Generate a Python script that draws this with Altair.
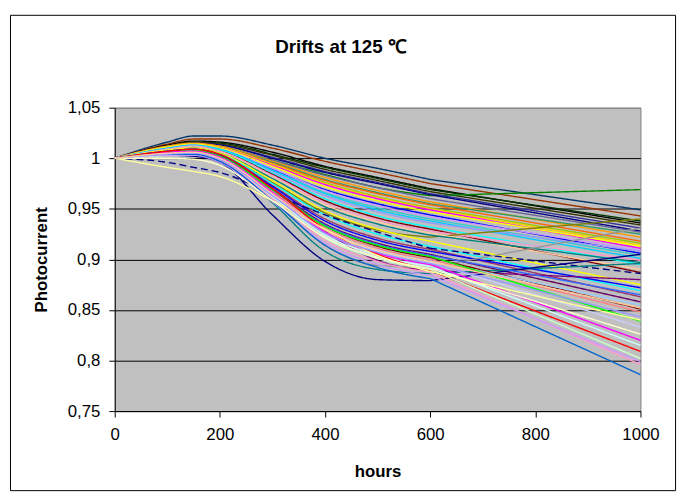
import altair as alt
import pandas as pd

TITLE = "Drifts at 125 ℃"
X_TITLE = "hours"
Y_TITLE = "Photocurrent"

HOURS = [0, 100, 150, 200, 300, 400, 500, 600, 1000]
X_TICKS = [0, 200, 400, 600, 800, 1000]
Y_TICKS = [0.75, 0.8, 0.85, 0.9, 0.95, 1.0, 1.05]

# upper bundle (ends 0.89 - 0.97)
UPPER = [
    [1, 1.016, 1.022, 1.022, 1.013, 1.000, 0.990, 0.979, 0.949],
    [1, 1.014, 1.019, 1.019, 1.010, 0.997, 0.986, 0.975, 0.943],
    [1, 1.013, 1.017, 1.016, 1.006, 0.992, 0.981, 0.970, 0.936],
    [1, 1.012, 1.016, 1.015, 1.004, 0.991, 0.980, 0.969, 0.938],
    [1, 1.012, 1.016, 1.014, 1.003, 0.989, 0.978, 0.967, 0.934],
    [1, 1.009, 1.013, 1.011, 0.998, 0.984, 0.971, 0.963, 0.969],
    [1, 1.012, 1.015, 1.013, 1.001, 0.987, 0.976, 0.965, 0.931],
    [1, 1.011, 1.015, 1.013, 1.000, 0.986, 0.975, 0.964, 0.928],
    [1, 1.011, 1.014, 1.012, 0.998, 0.983, 0.971, 0.960, 0.927],
    [1, 1.012, 1.015, 1.012, 0.997, 0.981, 0.968, 0.957, 0.922],
    [1, 1.010, 1.013, 1.011, 0.996, 0.979, 0.966, 0.955, 0.925],
    [1, 1.011, 1.014, 1.011, 0.995, 0.978, 0.965, 0.954, 0.918],
    [1, 1.010, 1.013, 1.010, 0.994, 0.976, 0.962, 0.951, 0.916],
    [1, 1.011, 1.014, 1.011, 0.994, 0.975, 0.961, 0.950, 0.914],
    [1, 1.010, 1.013, 1.010, 0.993, 0.974, 0.960, 0.949, 0.911],
    [1, 1.011, 1.014, 1.010, 0.992, 0.972, 0.958, 0.947, 0.913],
    [1, 1.009, 1.012, 1.008, 0.989, 0.969, 0.955, 0.944, 0.906],
    [1, 1.010, 1.013, 1.009, 0.990, 0.968, 0.953, 0.942, 0.909],
    [1, 1.009, 1.012, 1.008, 0.988, 0.966, 0.951, 0.940, 0.904],
    [1, 1.010, 1.013, 1.009, 0.988, 0.965, 0.949, 0.938, 0.901],
    [1, 1.008, 1.011, 1.007, 0.986, 0.963, 0.947, 0.936, 0.908],
    [1, 1.009, 1.012, 1.008, 0.985, 0.960, 0.943, 0.932, 0.895],
    [1, 1.008, 1.011, 1.007, 0.984, 0.958, 0.941, 0.930, 0.887],
    [1, 1.009, 1.012, 1.007, 0.983, 0.956, 0.939, 0.928, 0.899],
    [1, 1.006, 1.007, 1.003, 0.976, 0.946, 0.929, 0.922, 0.940],
    [1, 1.008, 1.011, 1.006, 0.981, 0.954, 0.937, 0.926, 0.890],
]
UPPER_COLORS = [
    "#003366", "#993300", "#000000", "#003300", "#333300", "#008000",
    "#333399", "#000080", "#666699", "#FF9900", "#339966", "#FF6600",
    "#99CC00", "#FFCC00", "#FF00FF", "#FFFF00", "#0000FF", "#CC99FF",
    "#33CCCC", "#00CCFF", "#9999FF", "#00FFFF", "#800000", "#FF99CC",
    "#808000", "#FFCC99",
]

# middle bundle (ends 0.85 - 0.93)
MIDDLE = [
    [1, 1.007, 1.010, 1.005, 0.980, 0.952, 0.935, 0.924, 0.897],
    [1, 1.008, 1.010, 1.005, 0.978, 0.948, 0.930, 0.918, 0.875],
    [1, 1.007, 1.009, 1.004, 0.975, 0.944, 0.925, 0.913, 0.869],
    [1, 1.006, 1.008, 1.003, 0.973, 0.940, 0.921, 0.910, 0.863],
    [1, 1.007, 1.009, 1.003, 0.972, 0.938, 0.919, 0.908, 0.872],
    [1, 1.006, 1.008, 1.002, 0.970, 0.935, 0.916, 0.905, 0.858],
    [1, 0.996, 0.991, 0.986, 0.965, 0.944, 0.927, 0.911, 0.886],
    [1, 1.005, 1.006, 1.001, 0.970, 0.928, 0.899, 0.889, 0.880],
    [1, 1.004, 1.004, 0.999, 0.956, 0.908, 0.890, 0.886, 0.896],
    [1, 1.004, 1.005, 1.000, 0.960, 0.914, 0.894, 0.892, 0.931],
    [1, 1.003, 1.002, 0.996, 0.944, 0.898, 0.880, 0.879, 0.905],
    [1, 1.006, 1.008, 1.002, 0.969, 0.933, 0.913, 0.902, 0.851],
    [1, 1.005, 1.007, 1.001, 0.968, 0.934, 0.915, 0.904, 0.865],
    [1, 1.005, 1.006, 1.000, 0.966, 0.930, 0.910, 0.899, 0.855],
    [1, 1.006, 1.007, 1.001, 0.967, 0.931, 0.911, 0.900, 0.848],
]
MIDDLE_COLORS = [
    "#008080", "#FFFF00", "#00FFFF", "#993366", "#0000FF", "#660066",
    "#000080", "#800080", "#008080", "#969696", "#000080", "#800000",
    "#3366FF", "#99CCFF", "#FF8080",
]
MIDDLE_DASHED = [False, False, False, False, False, False, True, False,
                 False, False, False, False, False, False, False]

# lower bundle (ends 0.78 - 0.85)
LOWER = [
    [1, 1.006, 1.008, 1.002, 0.969, 0.933, 0.914, 0.903, 0.839],
    [1, 1.004, 1.005, 0.999, 0.964, 0.927, 0.908, 0.897, 0.833],
    [1, 1.006, 1.007, 1.001, 0.966, 0.927, 0.906, 0.895, 0.820],
    [1, 1.003, 1.004, 0.998, 0.962, 0.924, 0.904, 0.893, 0.815],
    [1, 1.007, 1.009, 1.004, 0.970, 0.930, 0.905, 0.889, 0.809],
    [1, 1.003, 1.004, 0.997, 0.960, 0.921, 0.901, 0.890, 0.802],
    [1, 1.004, 1.005, 0.998, 0.960, 0.919, 0.898, 0.887, 0.796],
    [1, 1.003, 1.003, 0.996, 0.957, 0.916, 0.895, 0.884, 0.799],
    [1, 1.004, 1.004, 0.997, 0.958, 0.914, 0.892, 0.881, 0.786],
    [1, 0.991, 0.987, 0.982, 0.958, 0.930, 0.904, 0.888, 0.840],
    [1, 1.000, 0.999, 0.993, 0.958, 0.922, 0.902, 0.891, 0.826],
    [1, 1.004, 1.005, 0.999, 0.963, 0.926, 0.907, 0.896, 0.843],
    [1, 1.005, 1.006, 1.000, 0.965, 0.929, 0.909, 0.898, 0.852],
]
LOWER_COLORS = [
    "#00FF00", "#CCCCFF", "#FF00FF", "#CCFFFF", "#FF0000", "#CCFFCC",
    "#FF99CC", "#CC99FF", "#0066CC", "#FFFF99", "#FFFFCC", "#9999FF",
    "#FFCC99",
]

rows = []
names = []
colors = []
groups = [
    ("U", UPPER, UPPER_COLORS, [False] * len(UPPER)),
    ("M", MIDDLE, MIDDLE_COLORS, MIDDLE_DASHED),
    ("L", LOWER, LOWER_COLORS, [False] * len(LOWER)),
]
for prefix, series_list, cols, dashes in groups:
    for i, (vals, col, dsh) in enumerate(zip(series_list, cols, dashes)):
        name = f"{prefix}{i + 1:02d}"
        names.append(name)
        colors.append(col)
        for h, v in zip(HOURS, vals):
            rows.append({"series": name, "hours": h, "value": v,
                         "dash": "dashed" if dsh else "solid"})
df = pd.DataFrame(rows)

FONT = "Liberation Sans"
PLOT_W, PLOT_H = 532, 307

x_enc = alt.X(
    "hours:Q",
    scale=alt.Scale(domain=[0, 1000], nice=False),
    axis=alt.Axis(
        values=X_TICKS, grid=False, title=X_TITLE, format="d",
        labelFont=FONT, labelFontSize=17, labelColor="black", labelPadding=10,
        labelFlush=False, labelOverlap=False,
        tickColor="black", tickSize=6, domainColor="black",
        titleFont=FONT, titleFontSize=17, titleFontWeight="bold", titleColor="black",
        titleX=PLOT_W / 2, titleY=61, titleBaseline="middle", titleAlign="center",
    ),
)
y_enc = alt.Y(
    "value:Q",
    scale=alt.Scale(domain=[0.75, 1.05], nice=False, zero=False),
    axis=alt.Axis(
        values=Y_TICKS, title=Y_TITLE,
        labelExpr="replace(format(datum.value, '~g'), '.', ',')",
        grid=True,
        gridColor={"condition": {"test": "datum.value > 1.04", "value": "#808080"}, "value": "#000000"},
        gridWidth=1,
        labelFont=FONT, labelFontSize=17, labelColor="black", labelPadding=9,
        labelOverlap=False,
        tickColor="black", tickSize=6, domainColor="black",
        titleFont=FONT, titleFontSize=17, titleFontWeight="bold", titleColor="black",
        titleX=-74, titleY=PLOT_H / 2, titleAngle=270,
        titleBaseline="middle", titleAlign="center",
    ),
)
color_enc = alt.Color("series:N", scale=alt.Scale(domain=names, range=colors), legend=None)
dash_enc = alt.StrokeDash(
    "dash:N",
    scale=alt.Scale(domain=["solid", "dashed"], range=[[1, 0], [7, 4]]),
    legend=None,
)

base = alt.Chart(df)
curved = base.transform_filter("datum.hours <= 600").mark_line(
    interpolate="monotone", strokeWidth=1.4
).encode(x=x_enc, y=y_enc, color=color_enc, strokeDash=dash_enc)
straight = base.transform_filter("datum.hours >= 600").mark_line(
    strokeWidth=1.4
).encode(x=x_enc, y=y_enc, color=color_enc, strokeDash=dash_enc)

one = pd.DataFrame({"k": [0]})
border = alt.Chart(one).mark_rect(
    fillOpacity=0, stroke="black", strokeWidth=1
).encode(
    x=alt.value(-105.5), x2=alt.value(567.5),
    y=alt.value(-93.5), y2=alt.value(387.5),
)
title = alt.Chart(one).mark_text(
    font=FONT, fontSize=19, fontWeight="bold", color="black",
    align="center", baseline="alphabetic",
).encode(x=alt.value(229), y=alt.value(-55), text=alt.value(TITLE))

chart = alt.layer(curved, straight, border, title).properties(
    width=PLOT_W, height=PLOT_H,
    autosize=alt.AutoSizeParams(type="none"),
    padding={"left": 108, "top": 98, "right": 40, "bottom": 81},
    background="white",
).configure_view(
    fill="#C0C0C0", stroke="#808080", strokeWidth=1
)

chart.save("out.html", embed_options={"renderer": "svg", "actions": False})
